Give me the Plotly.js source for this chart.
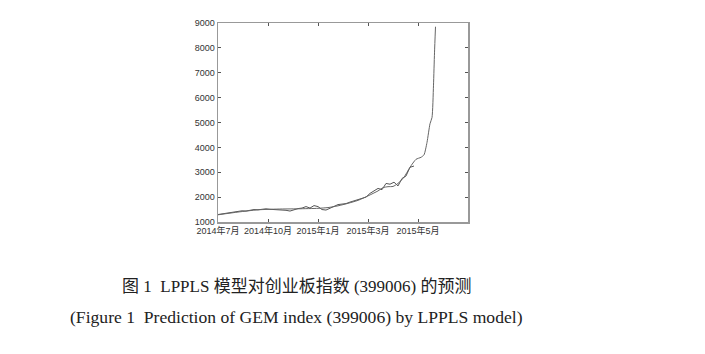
<!DOCTYPE html>
<html>
<head>
<meta charset="utf-8">
<script src="https://cdn.plot.ly/plotly-3.0.1.min.js"></script>
<style>html,body{margin:0;padding:0;background:#fff;}#chart{width:705px;height:354px;}</style>
</head>
<body>
<div id="chart"></div>
<script>
// trading-day index (x) and values
const actualX = [0,4,8,12,16,20,24,28,32,36,40,44,48,52,56,60,64,68,72,76,80,84,88,92,96,100,104,108,112,116,120,124,128,132,136,140,144,148,152,156,160,164,168,172,176,180,184,188,192,196];
const actualY = [1300,1320,1350,1380,1400,1430,1450,1440,1470,1500,1490,1510,1530,1510,1500,1520,1490,1470,1440,1500,1540,1560,1620,1560,1660,1620,1500,1480,1560,1650,1700,1720,1740,1800,1850,1930,1980,2000,2150,2250,2350,2300,2550,2520,2600,2450,2750,2850,3200,3250];
const fitX = [0,20,40,60,80,100,110,120,130,140,150,160,165,170,175,180,186,192,198,203,206,209,212,214,215.5,216.5,217.5];
const fitY = [1290,1400,1490,1520,1530,1550,1580,1650,1750,1870,2050,2250,2380,2420,2430,2550,2800,3200,3520,3600,3700,4200,4950,5200,6500,7800,8850];
const tickVals = [0,50,100,150,200];
const tickText = ['2014年7月','2014年10月','2015年1月','2015年3月','2015年5月'];
const yTicks = [1000,2000,3000,4000,5000,6000,7000,8000,9000];

const traces = [
  {x: actualX, y: actualY, type: 'scatter', mode: 'lines', line: {color: '#555', width: 1}, hoverinfo: 'skip'},
  {x: fitX, y: fitY, type: 'scatter', mode: 'lines', line: {color: '#666', width: 1, shape: 'spline', smoothing: 0.6}, hoverinfo: 'skip'}
];
const tickFont = {family: 'Liberation Sans, Noto Sans CJK SC, sans-serif', size: 9, color: '#333'};
const layout = {
  width: 705, height: 354,
  margin: {l: 218, r: 237, t: 23, b: 132},
  paper_bgcolor: '#fff', plot_bgcolor: '#fff',
  showlegend: false,
  xaxis: {range: [0, 250], tickvals: tickVals, ticktext: tickText, ticks: 'inside', ticklen: 3, tickcolor: '#555',
          showgrid: false, zeroline: false, showline: true, linecolor: '#999', linewidth: 1.5, mirror: 'ticks', tickfont: tickFont},
  yaxis: {range: [1000, 9000], tickvals: yTicks, ticks: 'inside', ticklen: 3, tickcolor: '#555',
          showgrid: false, zeroline: false, showline: true, linecolor: '#999', linewidth: 1.5, mirror: 'ticks', tickfont: tickFont},
  annotations: [
    {xref: 'paper', yref: 'paper', x: 0.312, y: -0.325, xanchor: 'center', yanchor: 'middle', showarrow: false,
     text: '图 1  LPPLS 模型对创业板指数 (399006) 的预测', font: {family: 'Liberation Serif, Noto Sans CJK SC, serif', size: 17, color: '#222'}},
    {xref: 'paper', yref: 'paper', x: 0.312, y: -0.476, xanchor: 'center', yanchor: 'middle', showarrow: false,
     text: '(Figure 1  Prediction of GEM index (399006) by LPPLS model)', font: {family: 'Liberation Serif, serif', size: 17.6, color: '#222'}}
  ]
};
Plotly.newPlot('chart', traces, layout, {staticPlot: true, displayModeBar: false});
</script>
</body>
</html>
